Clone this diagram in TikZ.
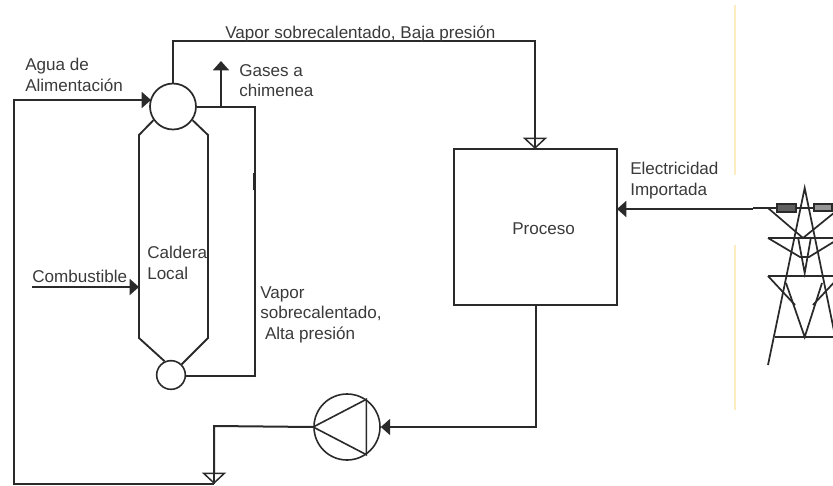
\documentclass[tikz,border=0pt]{standalone}
\usepackage{fontspec}
\setmainfont{Liberation Sans}
\usetikzlibrary{arrows.meta}
\definecolor{ink}{HTML}{2A2A2A}
\definecolor{txt}{HTML}{3A3A3A}
\definecolor{pale}{HTML}{FBEDC0}
\tikzset{
 x=0.75pt,y=-0.75pt,
 pipe/.style={draw=ink,line width=1.5pt,line join=miter},
 solidtip/.style={-{Triangle[length=7pt,width=12pt,fill=ink]}},
 opentip/.style={-{Triangle[length=8.5pt,width=18pt,open,line width=1.1pt]}},
 lbl/.style={font=\fontsize{12.8pt}{15.4pt}\selectfont,text=txt,align=left,inner sep=0pt,anchor=north west},
 tower/.style={draw=ink,line width=1.3pt},
}
\begin{document}
\begin{tikzpicture}
\useasboundingbox (0,0) rectangle (833,486);
% pale lines
\draw[pale,line width=2pt] (735,5) -- (735,175);
\draw[pale,line width=2pt] (735,245) -- (735,410);
% nodes
\node[circle,draw=ink,line width=1.3pt,minimum size=34.5pt,inner sep=0pt] (drum) at (173,106.5) {};
\node[circle,draw=ink,line width=1.2pt,minimum size=21.5pt,inner sep=0pt] (mud) at (171,375) {};
\node[draw=ink,line width=1.4pt,minimum width=122.25pt,minimum height=117pt,inner sep=0pt] (proc) at (535.5,227) {};
\node[lbl] (proclbl) at (512,222) {Proceso};
\node[circle,draw=ink,line width=1.2pt,minimum size=49.5pt,inner sep=0pt] (pump) at (347,427) {};
\coordinate (pa) at (pump.180);
\coordinate (pb) at (pump.55);
\coordinate (pc) at (pump.-55);
\draw[ink,line width=1.2pt] (pa) -- (pb) -- (pc) -- cycle;
% vessel
\draw[pipe,line width=1.4pt] (drum.215) -- (139,135) -- (139,338) -- (mud.115);
\draw[pipe,line width=1.4pt] (drum.-35) -- (208,135) -- (208,338) -- (mud.45);
% coordinates
\coordinate (stA) at (173,41);
\coordinate (stB) at (535,41);
\coordinate (stT) at (535,149);
\coordinate (fL) at (14,100);
\coordinate (fB) at (14,484);
\coordinate (fC) at (214,484);
\coordinate (fD) at (214,426);
\coordinate (feedEnd) at (151,100);
\coordinate (rA) at (255,107);
\coordinate (rB) at (255,376);
\coordinate (chim) at (221,107);
\coordinate (chimT) at (221,61);
\coordinate (combS) at (32,287);
\coordinate (combE) at (139,287);
\coordinate (pOut) at (536,305);
\coordinate (pCor) at (536,427);
\coordinate (elecS) at (753,209);
\coordinate (elecE) at (617,209);
% connectors
\draw[pipe,opentip] (drum.north) -- (stA) -- (stB) -- (stT);
\draw[pipe] (stB) -- (stT);
\draw[pipe,solidtip] (fC) -- (fB) -- (fL) -- (feedEnd);
\draw[pipe,opentip] (pa) -- (fD) -- (fC);
\draw[pipe] (fD) -- (fC);
\draw[pipe] (drum.east |- rA) -- (rA) -- (rB) -- (mud.east |- rB);
\draw[ink,line width=2.2pt] (254.5,173) -- (254.5,190);
\draw[pipe,solidtip] (chim) -- (chimT);
\draw[pipe,solidtip] (combS) -- (combE);
\draw[pipe,solidtip] (pOut) -- (pCor) -- (pump.east);
\draw[pipe,solidtip] (elecS) -- (elecE);
% labels
\node[lbl] (l1) at (225,26) {Vapor sobrecalentado, Baja presión};
\node[lbl] (l2) at (25,58) {Agua de\\Alimentación};
\node[lbl] (l3) at (239,64) {Gases a\\chimenea};
\node[lbl] (l4) at (147,246) {Caldera\\Local};
\node[lbl] (l5) at (32,270) {Combustible};
\node[lbl] (l6) at (260,286) {Vapor\\sobrecalentado,\\\ Alta presión};
\node[lbl] (l7) at (630,162) {Electricidad\\Importada};
% tower
\begin{scope}
\clip (740,170) rectangle (833,380);
\draw[tower] (768,208) -- (840,208);
\draw[tower] (753,208) -- (768,208) -- (803,238) -- (840,208);
\draw[tower] (768,238) -- (840,238);
\draw[tower] (768,238) -- (800,257) -- (809,257) -- (840,238);
\draw[tower] (768,276) -- (840,276);
\draw[tower] (768,276) -- (795,305);
\draw[tower] (840,276) -- (813,305);
\draw[tower] (775,337) -- (840,337);
\draw[tower] (768,365) -- (804.7,188) -- (841,365);
\draw[tower] (786,283) -- (804.7,337) -- (822,283);
\draw[tower] (798,237) -- (804.7,273) -- (811,237);
\draw[tower,fill=ink!75] (777,204) rectangle (796,212);
\draw[tower,fill=ink!50] (814,204) rectangle (832,211);
\end{scope}
\end{tikzpicture}
\end{document}
